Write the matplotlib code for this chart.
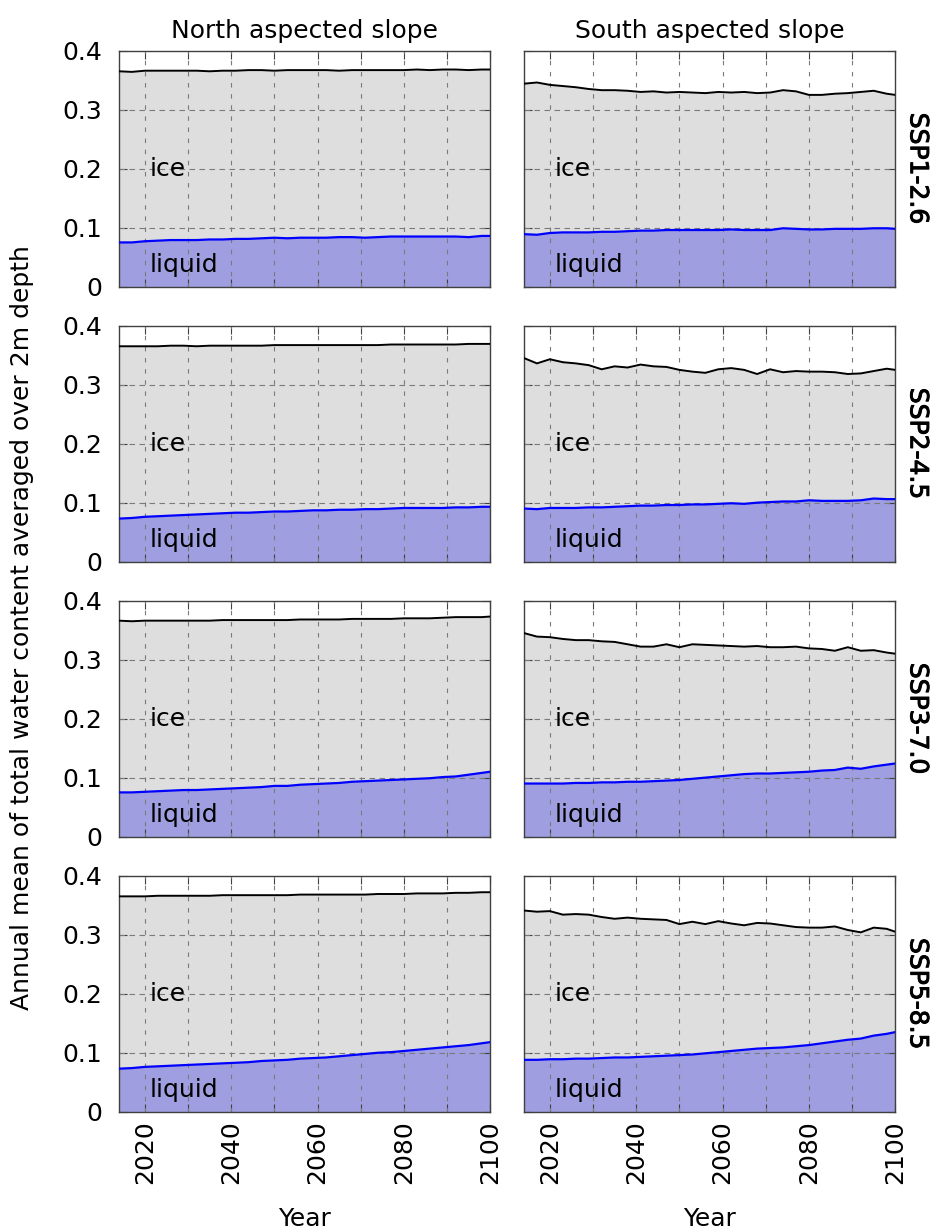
import numpy as np
import matplotlib.pyplot as plt
import matplotlib.patheffects as pe

years = [2014, 2017, 2020, 2023, 2026, 2029, 2032, 2035, 2038, 2041,
         2044, 2047, 2050, 2053, 2056, 2059, 2062, 2065, 2068, 2071,
         2074, 2077, 2080, 2083, 2086, 2089, 2092, 2095, 2098, 2100]

scenarios = ['SSP1-2.6', 'SSP2-4.5', 'SSP3-7.0', 'SSP5-8.5']
slopes = ['North aspected slope', 'South aspected slope']

# total water content (top of ice area) and liquid content
north_total = {
    'SSP1-2.6': [0.365, 0.364, 0.366, 0.366, 0.366, 0.366, 0.366, 0.365, 0.366, 0.366,
                 0.367, 0.367, 0.366, 0.367, 0.367, 0.367, 0.367, 0.366, 0.367, 0.367,
                 0.367, 0.367, 0.367, 0.368, 0.367, 0.368, 0.368, 0.367, 0.368, 0.368],
    'SSP2-4.5': [0.365, 0.365, 0.365, 0.365, 0.366, 0.366, 0.365, 0.366, 0.366, 0.366,
                 0.366, 0.366, 0.367, 0.367, 0.367, 0.367, 0.367, 0.367, 0.367, 0.367,
                 0.367, 0.368, 0.368, 0.368, 0.368, 0.368, 0.368, 0.369, 0.369, 0.369],
    'SSP3-7.0': [0.366, 0.365, 0.366, 0.366, 0.366, 0.366, 0.366, 0.366, 0.367, 0.367,
                 0.367, 0.367, 0.367, 0.367, 0.368, 0.368, 0.368, 0.368, 0.369, 0.369,
                 0.369, 0.369, 0.370, 0.370, 0.370, 0.371, 0.372, 0.372, 0.372, 0.373],
    'SSP5-8.5': [0.365, 0.365, 0.365, 0.366, 0.366, 0.366, 0.366, 0.366, 0.367, 0.367,
                 0.367, 0.367, 0.367, 0.367, 0.368, 0.368, 0.368, 0.368, 0.368, 0.368,
                 0.369, 0.369, 0.369, 0.370, 0.370, 0.370, 0.371, 0.371, 0.372, 0.372],
}
north_liquid = {
    'SSP1-2.6': [0.075, 0.075, 0.077, 0.078, 0.079, 0.079, 0.079, 0.080, 0.080, 0.081,
                 0.081, 0.082, 0.083, 0.082, 0.083, 0.083, 0.083, 0.084, 0.084, 0.083,
                 0.084, 0.085, 0.085, 0.085, 0.085, 0.085, 0.085, 0.084, 0.086, 0.086],
    'SSP2-4.5': [0.073, 0.074, 0.076, 0.077, 0.078, 0.079, 0.080, 0.081, 0.082, 0.083,
                 0.083, 0.084, 0.085, 0.085, 0.086, 0.087, 0.087, 0.088, 0.088, 0.089,
                 0.089, 0.090, 0.091, 0.091, 0.091, 0.091, 0.092, 0.092, 0.093, 0.093],
    'SSP3-7.0': [0.075, 0.075, 0.076, 0.077, 0.078, 0.079, 0.079, 0.080, 0.081, 0.082,
                 0.083, 0.084, 0.086, 0.086, 0.088, 0.089, 0.090, 0.091, 0.093, 0.094,
                 0.095, 0.096, 0.097, 0.098, 0.099, 0.101, 0.102, 0.105, 0.108, 0.110],
    'SSP5-8.5': [0.073, 0.074, 0.076, 0.077, 0.078, 0.079, 0.080, 0.081, 0.082, 0.083,
                 0.084, 0.086, 0.087, 0.088, 0.090, 0.091, 0.092, 0.094, 0.096, 0.098,
                 0.100, 0.101, 0.103, 0.105, 0.107, 0.109, 0.111, 0.113, 0.116, 0.118],
}
south_total = {
    'SSP1-2.6': [0.344, 0.346, 0.342, 0.340, 0.338, 0.335, 0.333, 0.333, 0.332, 0.330,
                 0.331, 0.329, 0.330, 0.329, 0.328, 0.330, 0.329, 0.330, 0.328, 0.329,
                 0.333, 0.331, 0.325, 0.325, 0.327, 0.328, 0.330, 0.332, 0.327, 0.325],
    'SSP2-4.5': [0.345, 0.336, 0.343, 0.338, 0.336, 0.333, 0.326, 0.331, 0.329, 0.334,
                 0.331, 0.330, 0.325, 0.322, 0.320, 0.326, 0.328, 0.325, 0.318, 0.326,
                 0.321, 0.323, 0.322, 0.322, 0.321, 0.318, 0.319, 0.323, 0.327, 0.325],
    'SSP3-7.0': [0.345, 0.339, 0.338, 0.335, 0.333, 0.333, 0.331, 0.330, 0.326, 0.322,
                 0.322, 0.326, 0.321, 0.326, 0.325, 0.324, 0.323, 0.322, 0.323, 0.321,
                 0.321, 0.322, 0.319, 0.318, 0.315, 0.321, 0.315, 0.316, 0.312, 0.310],
    'SSP5-8.5': [0.341, 0.339, 0.340, 0.334, 0.335, 0.334, 0.330, 0.327, 0.329, 0.327,
                 0.326, 0.325, 0.318, 0.322, 0.318, 0.323, 0.319, 0.316, 0.320, 0.319,
                 0.316, 0.313, 0.312, 0.312, 0.314, 0.308, 0.304, 0.312, 0.310, 0.305],
}
south_liquid = {
    'SSP1-2.6': [0.089, 0.088, 0.091, 0.092, 0.092, 0.092, 0.093, 0.093, 0.094, 0.095,
                 0.095, 0.096, 0.096, 0.096, 0.096, 0.096, 0.097, 0.096, 0.096, 0.096,
                 0.099, 0.098, 0.097, 0.097, 0.098, 0.098, 0.098, 0.099, 0.099, 0.098],
    'SSP2-4.5': [0.090, 0.089, 0.091, 0.091, 0.091, 0.092, 0.092, 0.093, 0.094, 0.095,
                 0.095, 0.096, 0.096, 0.097, 0.097, 0.098, 0.099, 0.098, 0.100, 0.101,
                 0.102, 0.102, 0.104, 0.103, 0.103, 0.103, 0.104, 0.107, 0.106, 0.106],
    'SSP3-7.0': [0.090, 0.090, 0.090, 0.090, 0.091, 0.091, 0.092, 0.092, 0.093, 0.093,
                 0.094, 0.095, 0.096, 0.098, 0.100, 0.102, 0.104, 0.106, 0.107, 0.107,
                 0.108, 0.109, 0.110, 0.112, 0.113, 0.117, 0.115, 0.119, 0.122, 0.124],
    'SSP5-8.5': [0.088, 0.088, 0.089, 0.089, 0.090, 0.090, 0.091, 0.092, 0.092, 0.093,
                 0.094, 0.095, 0.096, 0.097, 0.099, 0.101, 0.103, 0.105, 0.107, 0.108,
                 0.109, 0.111, 0.113, 0.116, 0.119, 0.122, 0.124, 0.129, 0.132, 0.135],
}

ICE_FILL = '#dedede'
LIQ_FILL = '#9e9ee0'
GRID_C = '#7a7a7a'
FRAME_C = '#404040'
FS = 18

plt.rcParams['font.family'] = 'DejaVu Sans'

fig = plt.figure(figsize=(9.33, 12.32), dpi=100)

lefts = [0.1275, 0.5616]
width = 0.398
height = 0.1916
bottoms = [0.7673, 0.5441, 0.3209, 0.0976]

for r, scen in enumerate(scenarios):
    for c, (total, liquid) in enumerate([(north_total, north_liquid),
                                          (south_total, south_liquid)]):
        ax = fig.add_axes([lefts[c], bottoms[r], width, height])
        x = np.array(years)
        tot = np.array(total[scen])
        liq = np.array(liquid[scen])
        ax.fill_between(x, 0, tot, color=ICE_FILL, lw=0, zorder=1)
        ax.fill_between(x, 0, liq, color=LIQ_FILL, lw=0, zorder=1)
        ax.plot(x, tot, color='black', lw=1.4, zorder=3)
        ax.plot(x, liq, color='#0000ff', lw=1.6, zorder=3)

        ax.set_xlim(2014, 2100)
        ax.set_ylim(0, 0.4)
        for gx in range(2020, 2100, 10):
            ax.axvline(gx, color=GRID_C, lw=0.8, dashes=(4, 6), zorder=2)
        for gy in [0.1, 0.2, 0.3]:
            ax.axhline(gy, color=GRID_C, lw=0.8, dashes=(5, 4), zorder=2)

        ax.set_xticks(range(2020, 2101, 10))
        ax.set_yticks([0, 0.1, 0.2, 0.3, 0.4])
        ax.tick_params(direction='in', top=True, right=True, length=6,
                       width=0.8, color=FRAME_C, labelsize=FS, pad=6)
        ax.tick_params(axis='y', pad=12)
        for s in ax.spines.values():
            s.set_color(FRAME_C)
            s.set_linewidth(1.0)

        if r == 3:
            ax.set_xticklabels([str(y) if y % 20 == 0 else '' for y in range(2020, 2101, 10)],
                               rotation=90)
            ax.set_xlabel('Year', fontsize=FS, labelpad=17)
        else:
            ax.set_xticklabels([])
        if c == 0:
            ax.set_yticklabels(['0', '0.1', '0.2', '0.3', '0.4'])
        else:
            ax.set_yticklabels([])
            ax.text(1.028, 0.5, scen, transform=ax.transAxes, rotation=-90,
                    fontsize=FS, ha='left', va='center',
                    path_effects=[pe.withStroke(linewidth=0.7, foreground='black')])
        if r == 0:
            ax.set_title(slopes[c], fontsize=FS, pad=9)

        ax.text(2021.2, 0.2, 'ice', fontsize=FS, ha='left', va='center', zorder=4)
        ax.text(2021.2, 0.037, 'liquid', fontsize=FS, ha='left', va='center', zorder=4)

fig.text(0.024, 0.491, 'Annual mean of total water content averaged over 2m depth',
         rotation=90, fontsize=FS, ha='center', va='center')

fig.savefig('out.png', dpi=100)
